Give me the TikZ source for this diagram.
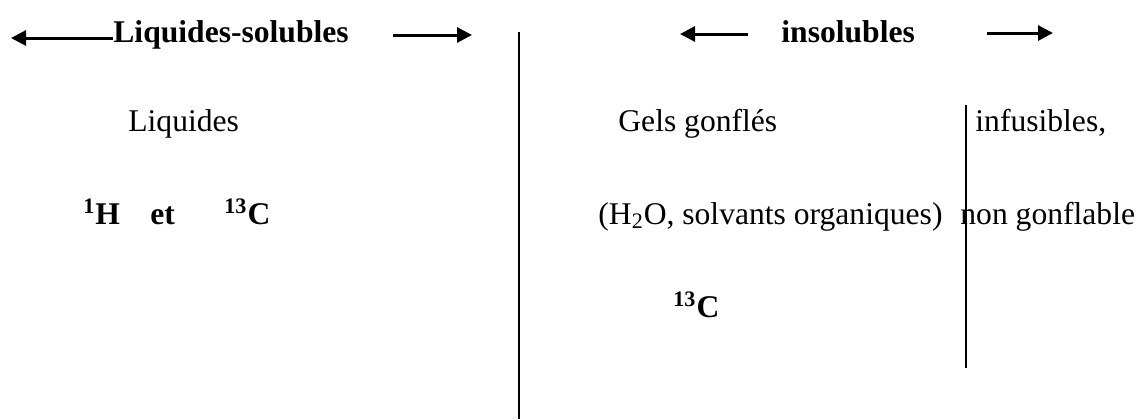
\documentclass[tikz,border=0pt]{standalone}
\usepackage{fontspec}
\setmainfont{Liberation Serif}
\usepackage{tikz}
\usetikzlibrary{arrows.meta}

\begin{document}
\begin{tikzpicture}[x=0.5pt,y=-0.5pt,
   lbl/.style={inner sep=0pt,anchor=base west,font=\fontsize{15.8}{18}\selectfont},
   hd/.style={lbl,font=\fontsize{15.8}{18}\selectfont\bfseries},
   arr/.style={-{Triangle[length=7.5pt,width=7.5pt]},line width=1.5pt},
   sep/.style={line width=1pt}]
  \useasboundingbox (0,0) rectangle (1139,419);
  % headers
  \node[hd] (sol)   at (113,42) {Liquides-solubles};
  \node[hd] (insol) at (781,42) {insolubles};
  \coordinate (solL)  at (11,38);   \coordinate (solLs)  at (113,38);
  \coordinate (solR)  at (472,35);  \coordinate (solRs)  at (393,35);
  \coordinate (insL)  at (680,34);  \coordinate (insLs)  at (748,34);
  \coordinate (insR)  at (1053,33); \coordinate (insRs)  at (987,33);
  \draw[arr] (solLs) -- (solL);
  \draw[arr] (solRs) -- (solR);
  \draw[arr] (insLs) -- (insL);
  \draw[arr] (insRs) -- (insR);
  % separators
  \coordinate (sepAt) at (519,32);  \coordinate (sepAb) at (519,419);
  \coordinate (sepBt) at (966,105); \coordinate (sepBb) at (966,368);
  \draw[sep] (sepAt) -- (sepAb);
  \draw[sep] (sepBt) -- (sepBb);
  % left column
  \node[lbl] (liq) at (128,131) {Liquides};
  \node[hd] (hyd)  at (83,224)  {\textsuperscript{1}H};
  \node[hd] (et)   at (150,224) {et};
  \node[hd] (carb) at (224,224) {\textsuperscript{13}C};
  % right columns
  \node[lbl] (gels) at (618,131) {Gels gonflés};
  \node[lbl] (solv) at (598,224) {(H\textsubscript{2}O, solvants organiques)};
  \node[hd]  (carbB) at (673,317) {\textsuperscript{13}C};
  \node[lbl] (inf)  at (975,131) {infusibles,};
  \node[lbl] (nong) at (960,224) {non gonflable};
\end{tikzpicture}
\end{document}
